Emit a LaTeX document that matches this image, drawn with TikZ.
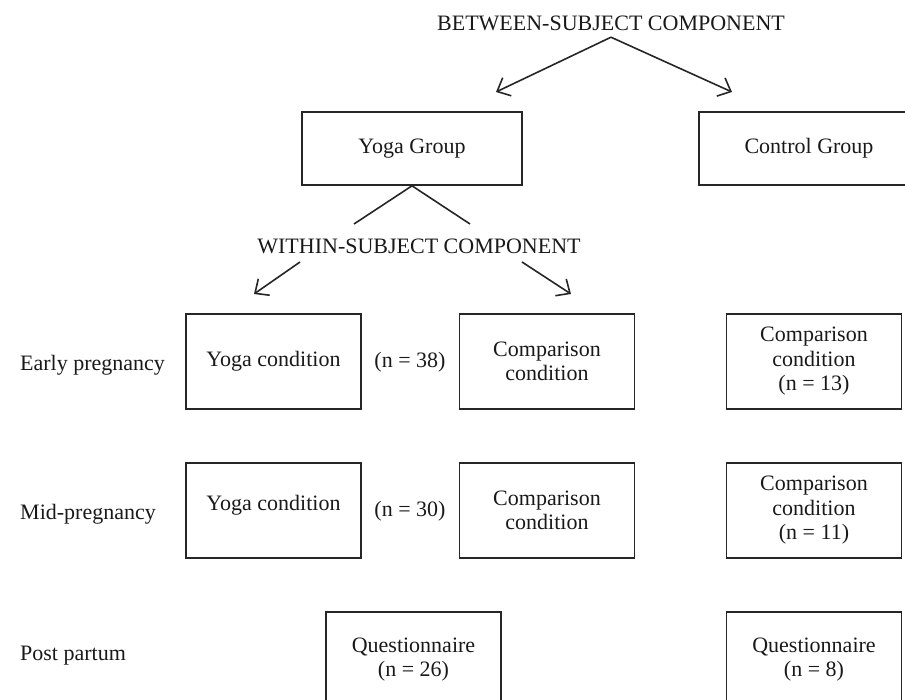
\documentclass[tikz,border=0pt]{standalone}
\usepackage{fontspec}
\setmainfont{Liberation Serif}
\usetikzlibrary{arrows.meta}
\begin{document}
\begin{tikzpicture}[x=1pt,y=-1pt,
  every node/.style={font=\fontsize{22}{24.5}\selectfont, text=black!90},
  box/.style={draw=black!85, line width=1.6pt, align=center, inner sep=0pt},
  wide/.style={box, minimum width=220pt, minimum height=73pt},
  cond/.style={box, minimum width=175pt, minimum height=95pt},
  lbl/.style={anchor=base west, inner sep=0pt},
  heading/.style={anchor=base, inner sep=0pt, text depth=0pt},
  conn/.style={draw=black!85, line width=1.6pt},
  arr/.style={conn, -{Straight Barb[length=11pt,width=20pt,line width=1.6pt]}}
]
\useasboundingbox (0,0) rectangle (905,699);
\clip (0,0) rectangle (905,699);

% between-subject component
\node[heading] (between) at (611,30) {BETWEEN-SUBJECT COMPONENT};
\coordinate (bl) at (496,92);
\coordinate (br) at (732,92);
\draw[arr] ([yshift=-7pt]between.south) -- (bl);
\draw[arr] ([yshift=-7pt]between.south) -- (br);

% groups
\node[wide] (yoga) at (412,148.5) {Yoga Group};
\node[wide] (control) at (809,148.5) {Control Group};

% within-subject component
\coordinate (vl) at (354,224);
\coordinate (vr) at (470,224);
\draw[conn] (vl) -- (yoga.south) -- (vr);
\node[heading] (within) at (419,253) {WITHIN-SUBJECT COMPONENT};
\coordinate (wls) at (300,262);
\coordinate (wlt) at (254,294);
\coordinate (wrs) at (522,262);
\coordinate (wrt) at (571,294);
\draw[arr] (wls) -- (wlt);
\draw[arr] (wrs) -- (wrt);

% row labels
\node[lbl] (early) at (20,370) {Early pregnancy};
\node[lbl] (mid) at (20,519) {Mid-pregnancy};
\node[lbl] (post) at (20,660) {Post partum};

% early pregnancy
\node[cond] (yc1) at (273.5,361.5) {Yoga condition};
\node (n1) at (410,362) {(n = 38)};
\node[cond] (cc1) at (547,361.5) {Comparison\\condition};
\node[cond] (rc1) at (814,361.5) {Comparison\\condition\\(n = 13)};

% mid-pregnancy
\node[cond, text height=15pt, text depth=15pt] (yc2) at (273.5,510.5) {Yoga condition};
\node (n2) at (410,511) {(n = 30)};
\node[cond] (cc2) at (547,510.5) {Comparison\\condition};
\node[cond] (rc2) at (814,510.5) {Comparison\\condition\\(n = 11)};

% post partum
\node[cond] (q1) at (413.5,659.5) {Questionnaire\\(n = 26)};
\node[cond] (q2) at (814,659.5) {Questionnaire\\(n = 8)};
\end{tikzpicture}
\end{document}
